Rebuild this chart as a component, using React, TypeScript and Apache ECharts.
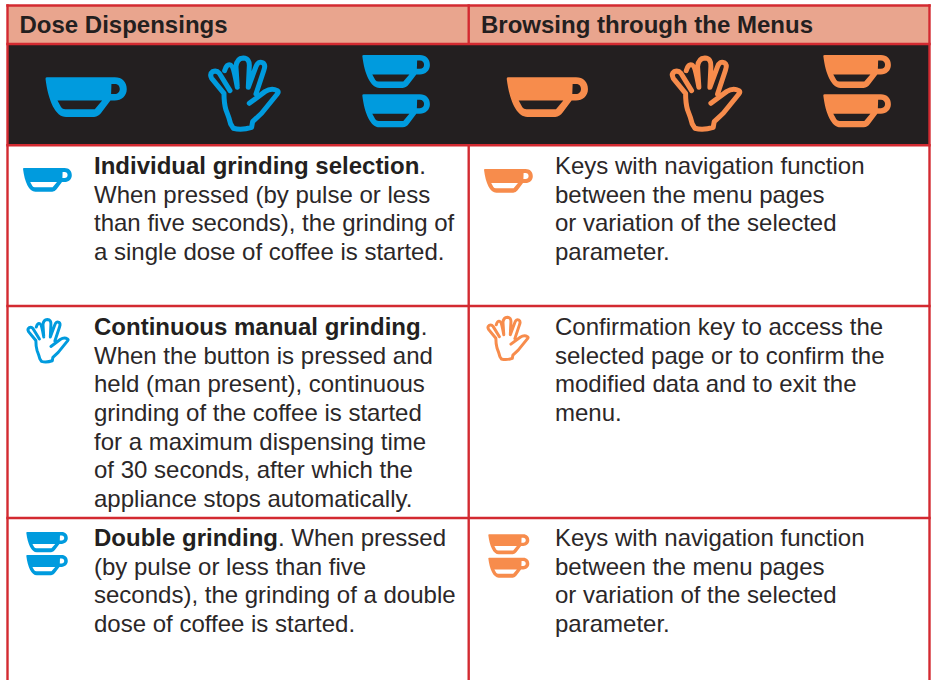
import React, { useEffect, useRef } from "react";
import * as echarts from "echarts";

const headers = ["Dose Dispensings", "Browsing through the Menus"];
const leftRow1 = ["{b|Individual grinding selection}.", "When pressed (by pulse or less", "than five seconds), the grinding of", "a single dose of coffee is started."];
const leftRow2 = ["{b|Continuous manual grinding}.", "When the button is pressed and", "held (man present), continuous", "grinding of the coffee is started", "for a maximum dispensing time", "of 30 seconds, after which the", "appliance stops automatically."];
const leftRow3 = ["{b|Double grinding}. When pressed", "(by pulse or less than five", "seconds), the grinding of a double", "dose of coffee is started."];
const rightRow1 = ["Keys with navigation function", "between the menu pages", "or variation of the selected", "parameter."];
const rightRow2 = ["Confirmation key to access the", "selected page or to confirm the", "modified data and to exit the", "menu."];
const rightRow3 = ["Keys with navigation function", "between the menu pages", "or variation of the selected", "parameter."];

const RED = "#d32a31";
const INK = "#231f20";
const TEXT = "#2b2728";
const BLUE = "#009bde";
const ORANGE = "#f78c4c";
const HEAD = "#e9a58e";

const CUP_D =
  "M0 4 Q0 0 5 0 L208 0 C230 0 244 14 244 36 C244 56 228 70 208 70 L195 70 L168 106 Q160 118 146 119 L62 119 C30 119 8 70 0 4 Z " +
  "M36 70 L47 90 Q51 96 59 96 L148 96 L170 70 Z " +
  "M198 20 L197 50 L208 50 C217 50 223 44 223 35 C223 26 217 20 208 20 Z";
const HAND_D =
  "M148 160 L195 125 Q215 112 232 122 Q238 126 232 132 L185 190 L158 215 L155 232 Q125 242 100 235 L92 222 Q88 205 78 180 Q72 160 72 130 L35 85 Q28 72 38 65 Q50 60 58 70 L90 122 " +
  "M74 62 Q80 40 92 45 Q100 48 112 112 L108 50 Q110 25 130 24 Q150 25 148 50 L145 112 L168 50 Q175 32 188 38 Q198 44 192 60 L168 132";

echarts.graphic.registerShape("cup", echarts.graphic.extendPath(CUP_D, {}));
echarts.graphic.registerShape("hand", echarts.graphic.extendPath(HAND_D, {}));

const cup = (x: number, y: number, s: number, fill: string) => ({
  type: "cup", x, y, scaleX: s, scaleY: s, style: { fill },
});
const hand = (x: number, y: number, s: number, stroke: string) => ({
  type: "hand", x, y, scaleX: s, scaleY: s,
  style: { fill: "none", stroke, lineWidth: 15, lineCap: "round", lineJoin: "round" },
});
const hLine = (x1: number, x2: number, y: number) => ({
  type: "rect", shape: { x: x1, y: y - 1.2, width: x2 - x1, height: 2.4 }, style: { fill: RED },
});
const vLine = (x: number, y1: number, y2: number) => ({
  type: "rect", shape: { x: x - 1.2, y: y1, width: 2.4, height: y2 - y1 }, style: { fill: RED },
});

const FS = 24;
const textBlock = (lines: string[], x: number, y0: number) =>
  lines.map((t, i) => ({
    type: "text",
    x,
    y: y0 + i * 28.7,
    style: {
      text: t,
      fontFamily: "Liberation Sans",
      fontSize: FS,
      fill: TEXT,
      verticalAlign: "middle",
      rich: {
        b: { fontFamily: "Liberation Sans", fontSize: FS, fontWeight: "bold", fill: INK, verticalAlign: "middle" },
      },
    },
  }));

export default function App() {
  const ref = useRef<HTMLDivElement>(null);
  useEffect(() => {
    const chart = echarts.init(ref.current!, null, { renderer: "svg" });
    const elements: any[] = [
      { type: "rect", shape: { x: 7.5, y: 5.5, width: 922, height: 39 }, style: { fill: HEAD } },
      { type: "rect", shape: { x: 7.5, y: 44, width: 922, height: 101 }, style: { fill: INK } },

      hLine(6.3, 930.7, 5.5),
      hLine(6.3, 930.7, 44),
      hLine(6.3, 930.7, 145.3),
      hLine(6.3, 930.7, 306),
      hLine(6.3, 930.7, 518),
      vLine(7.5, 4.3, 680),
      vLine(929.5, 4.3, 680),
      vLine(468.7, 4.3, 44),
      vLine(468.7, 145, 680),

      ...headers.map((t, i) => ({
        type: "text",
        x: i === 0 ? 19.5 : 481,
        y: 24.6,
        style: { text: t, fontFamily: "Liberation Sans", fontWeight: "bold", fontSize: FS, fill: INK, verticalAlign: "middle" },
      })),

      cup(45.5, 77.3, 1 / 3, BLUE),
      hand(200, 50, 1 / 3, BLUE),
      cup(362.3, 55, 0.277, BLUE),
      cup(362.3, 94.3, 0.277, BLUE),
      cup(506.7, 77.3, 1 / 3, ORANGE),
      hand(661.6, 50, 1 / 3, ORANGE),
      cup(823.3, 55, 0.277, ORANGE),
      cup(823.3, 94.3, 0.277, ORANGE),

      cup(23, 168, 0.2, BLUE),
      hand(21.6, 314.8, 0.198, BLUE),
      cup(26.3, 532, 0.17, BLUE),
      cup(26.3, 555, 0.17, BLUE),
      cup(484, 169, 0.2, ORANGE),
      hand(481.6, 312.5, 0.198, ORANGE),
      cup(488.3, 534.3, 0.168, ORANGE),
      cup(488.3, 557.7, 0.168, ORANGE),

      ...textBlock(leftRow1, 94, 165.3),
      ...textBlock(leftRow2, 94, 326.3),
      ...textBlock(leftRow3, 94, 537.3),
      ...textBlock(rightRow1, 555, 165.3),
      ...textBlock(rightRow2, 555, 326.3),
      ...textBlock(rightRow3, 555, 537.3),
    ];
    chart.setOption({ animation: false, graphic: { elements } });
    return () => chart.dispose();
  }, []);
  return (
    <div
      ref={ref}
      style={{ position: "absolute", left: 0, top: 0, width: 934, height: 680, background: "#fff" }}
    />
  );
}
